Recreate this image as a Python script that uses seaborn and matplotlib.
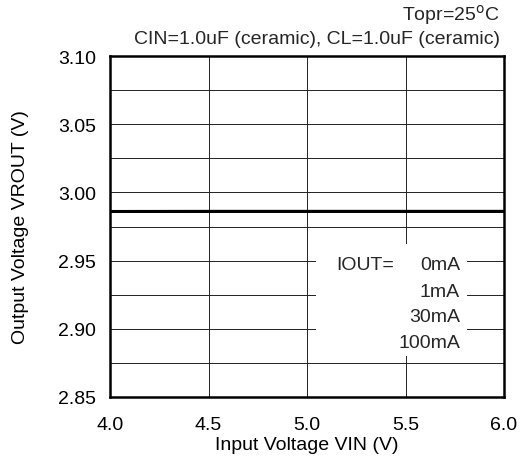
import numpy as np
import pandas as pd
import matplotlib
matplotlib.use("Agg")
import matplotlib.pyplot as plt
from matplotlib.patches import Rectangle
import seaborn as sns

# Data
vin = [4.0, 4.5, 5.0, 5.5, 6.0]
iout_labels = ["0mA", "1mA", "30mA", "100mA"]
vrout_0ma = [2.9865, 2.9865, 2.9865, 2.9865, 2.9865]
vrout_1ma = [2.9865, 2.9865, 2.9865, 2.9865, 2.9865]
vrout_30ma = [2.9862, 2.9863, 2.9863, 2.9863, 2.9863]
vrout_100ma = [2.9858, 2.9860, 2.9860, 2.9860, 2.9860]

sns.set_theme(style="white")
plt.rcParams['font.family'] = ['Liberation Sans', 'DejaVu Sans']

df = pd.DataFrame({
    "vin": vin * 4,
    "vrout": vrout_0ma + vrout_1ma + vrout_30ma + vrout_100ma,
    "iout": sum([[lab] * len(vin) for lab in iout_labels], []),
})

fig = plt.figure(figsize=(5.21, 4.60), dpi=100)
ax = fig.add_axes([110 / 521, 1 - 398 / 460, 394 / 521, 341 / 460])

sns.lineplot(data=df, x="vin", y="vrout", hue="iout", legend=False,
             palette=["black"] * 4, linewidth=1.8, ax=ax)

ax.set_xlim(4.0, 6.0)
ax.set_ylim(2.85, 3.10)
ax.set_xticks(np.arange(4.0, 6.01, 0.5))
ax.set_yticks(np.arange(2.85, 3.101, 0.05))
ax.set_yticks(np.arange(2.875, 3.1, 0.05), minor=True)
ax.xaxis.set_major_formatter(matplotlib.ticker.FormatStrFormatter("%.1f"))
ax.yaxis.set_major_formatter(matplotlib.ticker.FormatStrFormatter("%.2f"))
ax.grid(True, which="both", color="#222222", linewidth=0.7)
ax.set_axisbelow(True)
for s in ax.spines.values():
    s.set_color("black")
    s.set_linewidth(1.8)
ax.tick_params(axis="y", which="both", length=0, labelsize=14, colors="black", pad=10)
ax.tick_params(axis="x", which="both", length=0, labelsize=14, colors="black", pad=14)
ax.set_xlabel("Input Voltage VIN (V)", fontsize=14, color="black", labelpad=2)
ax.set_ylabel("Output Voltage VROUT (V)", fontsize=14, color="black", labelpad=21)

fig.text(500 / 521, 1 - 15 / 460, "Topr=25$^{\\mathrm{o}}$C", ha="right", va="center", fontsize=14)
fig.text(500 / 521, 1 - 40 / 460, "CIN=1.0uF (ceramic), CL=1.0uF (ceramic)",
         ha="right", va="center", fontsize=14)

# white box behind the IOUT legend text
ax.add_patch(Rectangle((5.046, 2.880), 0.766, 0.082, facecolor="white",
                       edgecolor="none", zorder=1.5))
ax.text(5.15, 2.9475, "IOUT=", ha="left", va="center", fontsize=14, zorder=3)
legend_y = [2.9475, 2.9277, 2.9087, 2.8903]
for lab, yy in zip(iout_labels, legend_y):
    ax.text(5.777, yy, lab, ha="right", va="center", fontsize=14, zorder=3)

fig.savefig("out.png", dpi=100)
